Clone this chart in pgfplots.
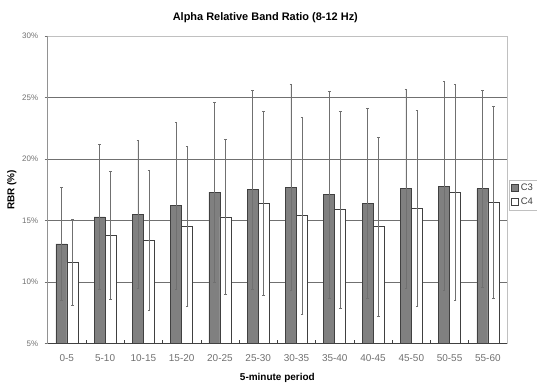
\documentclass[border=0pt]{standalone}
\usepackage{pgfplots}
\pgfplotsset{compat=1.18}
\usepackage{pgfplotstable}
\usepackage{fontspec}
\setmainfont{Liberation Sans}

\definecolor{barC3}{HTML}{808080}
\definecolor{edge}{HTML}{404040}
\definecolor{gridc}{HTML}{707070}
\definecolor{frame}{HTML}{C0C0C0}
\definecolor{ticktext}{HTML}{707070}

% period index, mean RBR (%), standard deviation
\pgfplotstableread{
x  y     e
0  13.1  4.6
1  15.3  5.9
2  15.5  6.0
3  16.2  6.8
4  17.3  7.3
5  17.5  8.1
6  17.7  8.4
7  17.1  8.4
8  16.4  7.7
9  17.6  8.1
10 17.8  8.5
11 17.6  8.0
}\cthree
\pgfplotstableread{
x  y     e
0  11.6  3.5
1  13.8  5.2
2  13.4  5.7
3  14.5  6.5
4  15.3  6.3
5  16.4  7.5
6  15.4  8.0
7  15.9  8.0
8  14.5  7.3
9  16.0  8.0
10 17.3  8.8
11 16.5  7.8
}\cfour

\begin{document}
\begin{tikzpicture}
\path[use as bounding box] (-47.7bp,-39.5bp) rectangle (489.3bp,343.5bp);
\begin{axis}[
  at={(0,0)}, anchor=south west,
  scale only axis,
  width=459.3bp, height=307.5bp,
  xmin=-0.5, xmax=11.5,
  ymin=5, ymax=30,
  ybar, bar width=0.287,
  xtick={0,...,11},
  xticklabels={0-5,5-10,10-15,15-20,20-25,25-30,30-35,35-40,40-45,45-50,50-55,55-60},
  minor xtick={0.5,1.5,...,10.5},
  xtick pos=bottom, ytick pos=left,
  major x tick style={draw=none},
  minor x tick style={draw=edge, line width=0.5pt},
  xtick align=inside,
  minor tick length=3bp,
  ytick={5,10,...,30},
  ytick align=outside,
  major tick length=3bp,
  y tick style={draw=gridc, line width=0.6pt},
  yticklabel={\pgfmathprintnumber{\tick}\%},
  /pgf/number format/assume math mode=true,
  ymajorgrids,
  grid style={draw=gridc, line width=0.7pt},
  axis line style={draw=frame, line width=0.7pt},
  tick label style={text=ticktext},
  yticklabel style={font=\fontsize{8}{9}\selectfont, xshift=-3bp},
  xticklabel style={font=\fontsize{10}{11}\selectfont, yshift=-8bp},
  xlabel={5-minute period},
  ylabel={RBR (\%)},
  xlabel style={font=\fontsize{10}{11}\selectfont\bfseries, yshift=-4bp},
  ylabel style={font=\fontsize{10}{11}\selectfont\bfseries, yshift=-1bp},
  title={Alpha Relative Band Ratio (8-12 Hz)},
  title style={font=\fontsize{11}{12}\selectfont\bfseries, xshift=-12bp, yshift=4bp},
  legend style={at={(1,0.532)}, anchor=north west, xshift=2bp,
    draw=frame, font=\fontsize{9.5}{10}\selectfont, text=edge,
    inner xsep=2bp, inner ysep=2bp, row sep=2bp},
  legend image code/.code={\draw[#1] (0bp,-3.5bp) rectangle (7bp,3.5bp);},
  legend cell align=left,
  error bars/error bar style={draw=gridc, line width=0.6pt},
  error bars/error mark options={rotate=90, mark size=1.3bp, draw=gridc, line width=0.6pt},
]
\addplot[fill=barC3, draw=edge, line width=0.6pt, bar shift=-0.1435,
  error bars/.cd, y dir=both, y explicit]
  table[x=x, y=y, y error=e] {\cthree};
\addlegendentry{C3}
\addplot[fill=white, draw=edge, line width=0.6pt, bar shift=0.1435,
  error bars/.cd, y dir=both, y explicit]
  table[x=x, y=y, y error=e] {\cfour};
\addlegendentry{C4}
\draw[edge, line width=0.8pt] (rel axis cs:0,1) -- (rel axis cs:0,0) -- (rel axis cs:1,0);
\end{axis}
\end{tikzpicture}
\end{document}
